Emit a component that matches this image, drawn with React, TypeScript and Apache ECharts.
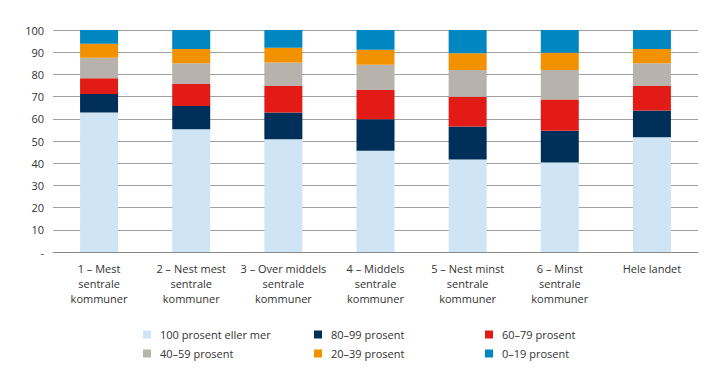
import React, { useEffect, useRef } from "react";
import * as echarts from "echarts";

const categories = [
  "1 – Mest\nsentrale\nkommuner",
  "2 – Nest mest\nsentrale\nkommuner",
  "3 – Over middels\nsentrale\nkommuner",
  "4 – Middels\nsentrale\nkommuner",
  "5 – Nest minst\nsentrale\nkommuner",
  "6 – Minst\nsentrale\nkommuner",
  "Hele landet",
];

const seriesNames = [
  "100 prosent eller mer",
  "80–99 prosent",
  "60–79 prosent",
  "40–59 prosent",
  "20–39 prosent",
  "0–19 prosent",
];

const v100 = [62.8, 55.3, 50.8, 45.6, 41.7, 40.3, 51.7];
const v80 = [8.4, 10.5, 12.0, 14.2, 14.8, 14.3, 12.0];
const v60 = [7.1, 9.9, 12.0, 13.2, 13.4, 14.1, 11.1];
const v40 = [9.2, 9.3, 10.6, 11.4, 12.1, 13.3, 10.2];
const v20 = [6.3, 6.4, 6.6, 6.7, 7.5, 7.8, 6.4];
const v0 = [6.2, 8.6, 8.0, 8.9, 10.5, 10.2, 8.6];

const seriesValues = [v100, v80, v60, v40, v20, v0];
const colors = ["#cfe5f5", "#00305a", "#e31b17", "#b7b2ab", "#f39200", "#0086c0"];

const FONT = "'Open Sans', sans-serif";

export default function App() {
  const ref = useRef<HTMLDivElement>(null);
  useEffect(() => {
    document.body.style.margin = "0";
    const chart = echarts.init(ref.current!, null, { renderer: "svg" });
    const cols = [143, 314, 485];
    const rows = [329, 348];
    chart.setOption({
      animation: false,
      textStyle: { fontFamily: FONT },
      grid: { left: 53, right: 21, top: 30, bottom: 131, containLabel: false },
      legend: seriesNames.map((n, i) => ({
        data: [n],
        left: cols[i % 3],
        top: rows[Math.floor(i / 3)],
        itemWidth: 8,
        itemHeight: 8,
        itemGap: 0,
        icon: "rect",
        textStyle: { fontFamily: FONT, fontSize: 11, color: "#333", padding: [0, 0, 0, 4] },
        padding: 0,
        selectedMode: false,
      })),
      xAxis: {
        type: "category",
        data: categories,
        axisLine: { lineStyle: { color: "#8a8a8a", width: 1 } },
        axisTick: { show: false },
        axisLabel: {
          interval: 0,
          fontFamily: FONT,
          fontSize: 11,
          color: "#333",
          lineHeight: 15,
          margin: 9,
        },
      },
      yAxis: {
        type: "value",
        min: 0,
        max: 100,
        interval: 10,
        axisLine: { show: false },
        axisTick: { show: false },
        splitLine: { lineStyle: { color: "#a0a0a0", width: 1 } },
        axisLabel: {
          fontFamily: FONT,
          fontSize: 11,
          color: "#333",
          margin: 9,
          formatter: (v: number) => (v === 0 ? "-" : String(v)),
        },
      },
      series: seriesNames.map((n, i) => ({
        name: n,
        type: "bar",
        stack: "total",
        barWidth: 38,
        data: seriesValues[i],
        itemStyle: { color: colors[i] },
      })),
    });
    return () => chart.dispose();
  }, []);
  return <div ref={ref} style={{ width: 719, height: 383 }} />;
}
